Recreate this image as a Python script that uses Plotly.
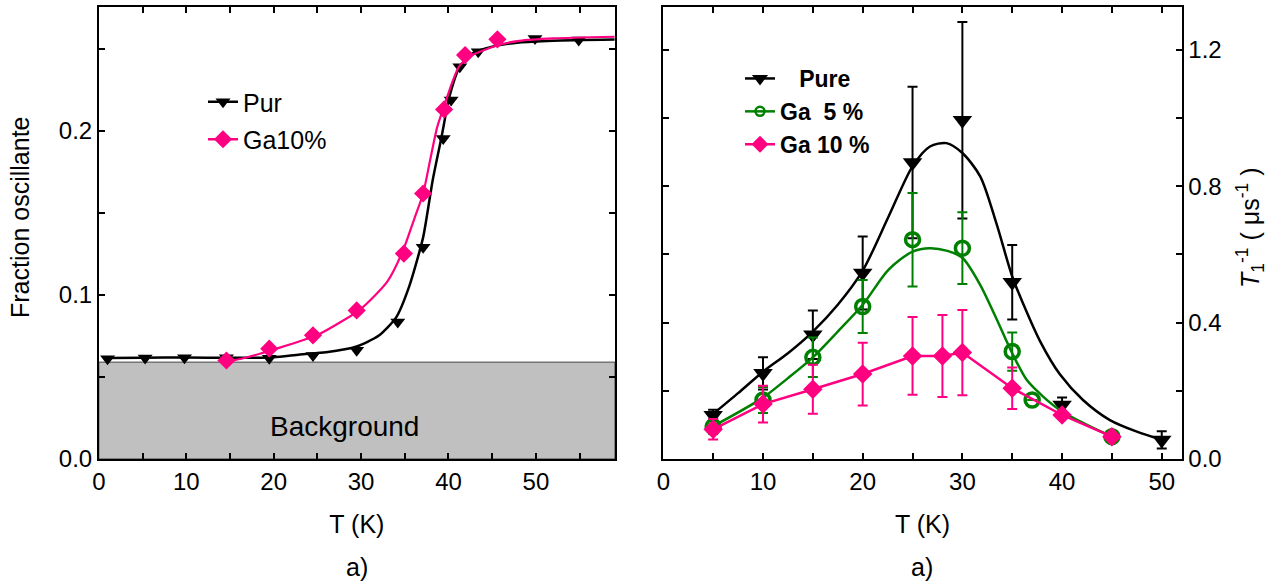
import plotly.graph_objects as go

# ---------------- Left panel: Fraction oscillante ----------------
pur_T = [1.0, 5.3, 9.8, 14.6, 19.5, 24.5, 29.5, 34.2, 37.1, 39.4, 40.3, 41.3, 43.4, 49.9, 54.9]
pur_frac = [0.061, 0.0615, 0.0617, 0.0616, 0.0613, 0.0631, 0.0662, 0.0834, 0.129, 0.1952, 0.2186, 0.2389, 0.248, 0.2562, 0.2552]

ga10_T = [14.6, 19.5, 24.5, 29.5, 34.9, 37.1, 39.5, 41.9, 45.6]
ga10_frac = [0.060, 0.0672, 0.0753, 0.0905, 0.1251, 0.1617, 0.2129, 0.246, 0.2556]

# fitted curves
pur_fit_T = [1, 5, 10, 15, 20, 23, 26, 29.5, 32, 34, 35.5, 37.1, 38.2, 39.2, 40.1, 41.3, 42.8, 45, 48.1, 52, 59]
pur_fit_frac = [0.0615, 0.0617, 0.0618, 0.0616, 0.062, 0.0637, 0.065, 0.0685, 0.075, 0.0861, 0.105, 0.135, 0.170, 0.196, 0.2205, 0.239, 0.2472, 0.2512, 0.2537, 0.2548, 0.2555]

ga10_fit_T = [14.1, 17, 20, 25, 30, 33, 34.8, 36.2, 37.1, 37.9, 38.7, 39.5, 40.4, 41.2, 42.5, 45.8, 48.1, 52, 59]
ga10_fit_frac = [0.0586, 0.062, 0.0667, 0.0755, 0.0915, 0.108, 0.127, 0.148, 0.1616, 0.182, 0.202, 0.215, 0.229, 0.239, 0.2455, 0.2523, 0.2547, 0.2562, 0.2572]

background_level = 0.059

left_x_ticks = [0, 10, 20, 30, 40, 50]
left_x_labels = ["0", "10", "20", "30", "40", "50"]
left_x_minor = [5, 15, 25, 35, 45, 55]
left_y_ticks = [0, 0.1, 0.2]
left_y_labels = ["0.0", "0.1", "0.2"]
left_y_minor = [0.05, 0.15, 0.25]

# ---------------- Right panel: T1^-1 ----------------
pure_T = [5, 10, 15, 20, 25, 30, 35, 40, 50]
pure_rate = [0.128, 0.251, 0.364, 0.545, 0.869, 0.993, 0.518, 0.158, 0.056]
pure_err = [0.016, 0.047, 0.071, 0.107, 0.222, 0.288, 0.109, 0.022, 0.025]

ga5_T = [5, 10, 15, 20, 25, 30, 35, 37, 45]
ga5_rate = [0.095, 0.173, 0.298, 0.447, 0.643, 0.618, 0.315, 0.173, 0.0655]
ga5_err = [0.022, 0.038, 0.058, 0.078, 0.137, 0.105, 0.056, None, None]

ga10r_T = [5, 10, 15, 20, 25, 28, 30, 35, 40, 45]
ga10r_rate = [0.087, 0.161, 0.2045, 0.249, 0.302, 0.302, 0.312, 0.2075, 0.129, 0.0655]
ga10r_err = [0.03, 0.054, 0.072, 0.092, 0.114, 0.12, 0.125, 0.061, None, None]

pure_fit_T = [5, 7.5, 10, 12.5, 15, 17.5, 20, 22.6, 25, 26.75, 28.4, 30, 31.8, 33.4, 35, 36.1, 37.8, 39.8, 42.1, 44.8, 47.5, 50]
pure_fit_rate = [0.132, 0.193, 0.256, 0.31, 0.3735, 0.452, 0.552, 0.711, 0.858, 0.916, 0.926, 0.897, 0.828, 0.692, 0.535, 0.455, 0.345, 0.2475, 0.173, 0.114, 0.080, 0.056]

ga5_fit_T = [5, 10, 12.5, 15, 17.5, 20, 22.6, 25, 26.75, 28.5, 30, 31.8, 33.2, 35, 36.45, 38.1, 40, 42.5, 45]
ga5_fit_rate = [0.096, 0.18, 0.237, 0.298, 0.3735, 0.452, 0.555, 0.608, 0.618, 0.61, 0.59, 0.51, 0.425, 0.31, 0.232, 0.183, 0.139, 0.0998, 0.0655]

right_x_ticks = [0, 10, 20, 30, 40, 50]
right_x_labels = ["0", "10", "20", "30", "40", "50"]
right_x_minor = [5, 15, 25, 35, 45]
right_y_ticks = [0, 0.4, 0.8, 1.2]
right_y_labels = ["0.0", "0.4", "0.8", "1.2"]
right_y_minor = [0.2, 0.6, 1.0]

BLACK = "#000000"
PINK = "#FF0080"
GREEN = "#008000"
FONT = "Liberation Sans, Arial, sans-serif"

fig = go.Figure()

# ---- left panel traces ----
fig.add_trace(go.Scatter(x=pur_fit_T, y=pur_fit_frac, mode="lines", line=dict(color=BLACK, width=2.5, shape="spline", smoothing=0.6),
                         showlegend=False, xaxis="x", yaxis="y", hoverinfo="skip"))
fig.add_trace(go.Scatter(x=pur_T, y=pur_frac, mode="markers", marker=dict(symbol="triangle-down", size=13, color=BLACK),
                         showlegend=False, xaxis="x", yaxis="y"))
fig.add_trace(go.Scatter(x=ga10_fit_T, y=ga10_fit_frac, mode="lines", line=dict(color=PINK, width=2.2, shape="spline", smoothing=0.6),
                         showlegend=False, xaxis="x", yaxis="y", hoverinfo="skip"))
fig.add_trace(go.Scatter(x=ga10_T, y=ga10_frac, mode="markers", marker=dict(symbol="diamond", size=14, color=PINK),
                         showlegend=False, xaxis="x", yaxis="y"))
# left legend entries
fig.add_trace(go.Scatter(x=[None], y=[None], mode="lines+markers", name="Pur", legend="legend", legendgroup="a",
                         line=dict(color=BLACK, width=2.5), marker=dict(symbol="triangle-down", size=13, color=BLACK),
                         xaxis="x", yaxis="y"))
fig.add_trace(go.Scatter(x=[None], y=[None], mode="lines+markers", name="Ga10%", legend="legend", legendgroup="b",
                         line=dict(color=PINK, width=2.5), marker=dict(symbol="diamond", size=14, color=PINK),
                         xaxis="x", yaxis="y"))

# ---- right panel traces ----
fig.add_trace(go.Scatter(x=pure_fit_T, y=pure_fit_rate, mode="lines", line=dict(color=BLACK, width=2.5, shape="spline", smoothing=0.8),
                         showlegend=False, xaxis="x2", yaxis="y2", hoverinfo="skip"))
fig.add_trace(go.Scatter(x=pure_T, y=pure_rate, mode="markers", marker=dict(symbol="triangle-down", size=17, color=BLACK),
                         error_y=dict(type="data", array=pure_err, color=BLACK, thickness=2, width=5),
                         xaxis="x2", yaxis="y2", showlegend=False))
fig.add_trace(go.Scatter(x=ga5_fit_T, y=ga5_fit_rate, mode="lines", line=dict(color=GREEN, width=2.5, shape="spline", smoothing=0.8),
                         showlegend=False, xaxis="x2", yaxis="y2", hoverinfo="skip"))
fig.add_trace(go.Scatter(x=ga5_T, y=ga5_rate, mode="markers",
                         marker=dict(symbol="circle-open", size=14, color=GREEN, line=dict(width=3.5, color=GREEN)),
                         error_y=dict(type="data", array=ga5_err, color=GREEN, thickness=2, width=5),
                         showlegend=False, xaxis="x2", yaxis="y2"))
fig.add_trace(go.Scatter(x=ga10r_T, y=ga10r_rate, mode="lines+markers",
                         line=dict(color=PINK, width=2.5), marker=dict(symbol="diamond", size=15, color=PINK),
                         error_y=dict(type="data", array=ga10r_err, color=PINK, thickness=2, width=5),
                         showlegend=False, xaxis="x2", yaxis="y2"))
# right legend entries
fig.add_trace(go.Scatter(x=[None], y=[None], mode="lines+markers", name="\u00a0\u00a0\u00a0Pure", legend="legend2", legendgroup="p",
                         line=dict(color=BLACK, width=2.5), marker=dict(symbol="triangle-down", size=14, color=BLACK),
                         xaxis="x2", yaxis="y2"))
fig.add_trace(go.Scatter(x=[None], y=[None], mode="lines+markers", name="Ga\u00a0\u00a05 %", legend="legend2", legendgroup="g5",
                         line=dict(color=GREEN, width=2.5),
                         marker=dict(symbol="circle-open", size=9, color=GREEN, line=dict(width=2.5, color=GREEN)),
                         xaxis="x2", yaxis="y2"))
fig.add_trace(go.Scatter(x=[None], y=[None], mode="lines+markers", name="Ga 10 %", legend="legend2", legendgroup="g10",
                         line=dict(color=PINK, width=2.5), marker=dict(symbol="diamond", size=13, color=PINK),
                         xaxis="x2", yaxis="y2"))

axis_common = dict(showline=True, linecolor=BLACK, linewidth=1.6, mirror="allticks", ticks="inside",
                   ticklen=6, tickwidth=1.5, tickcolor=BLACK, showgrid=False, zeroline=False, automargin=False,
                   tickfont=dict(family=FONT, size=24, color=BLACK))


def minor_ticks(vals):
    return dict(tickmode="array", tickvals=vals, ticks="inside", ticklen=6, tickwidth=1.5, tickcolor=BLACK, showgrid=False)


fig.update_layout(
    width=1285, height=585,
    margin=dict(l=0, r=0, t=0, b=0, pad=0, autoexpand=False),
    paper_bgcolor="white", plot_bgcolor="white",
    font=dict(family=FONT, size=24, color=BLACK),
    xaxis=dict(domain=[0.0769, 0.4786], range=[0, 59.05], tickmode="array", tickvals=left_x_ticks, ticktext=left_x_labels,
               minor=minor_ticks(left_x_minor),
               anchor="y", title=dict(text="T (K)", standoff=22, font=dict(size=25)), **axis_common),
    yaxis=dict(domain=[0.2154, 0.988], range=[0, 0.2753], tickmode="array", tickvals=left_y_ticks, ticktext=left_y_labels,
               minor=minor_ticks(left_y_minor), anchor="x", **axis_common),
    xaxis2=dict(domain=[0.5162, 0.9196], range=[0, 52.0], tickmode="array", tickvals=right_x_ticks, ticktext=right_x_labels,
                minor=minor_ticks(right_x_minor),
                anchor="y2", title=dict(text="T (K)", standoff=22, font=dict(size=25)), **axis_common),
    yaxis2=dict(domain=[0.2154, 0.988], range=[0, 1.325], tickmode="array", tickvals=right_y_ticks, ticktext=right_y_labels,
                minor=minor_ticks(right_y_minor), anchor="x2", side="right", **axis_common),
    legend=dict(x=203 / 1285, y=1 - 79 / 585, xanchor="left", yanchor="top", bgcolor="rgba(0,0,0,0)",
                font=dict(family=FONT, size=25, color=BLACK), tracegroupgap=2),
    legend2=dict(x=740 / 1285, y=1 - 57 / 585, xanchor="left", yanchor="top", bgcolor="rgba(0,0,0,0)",
                 font=dict(family=FONT, size=23, color=BLACK, weight="bold"), tracegroupgap=0),
    shapes=[dict(type="rect", xref="x domain", yref="y", x0=0, x1=1, y0=0, y1=background_level,
                 fillcolor="#C0C0C0", line=dict(color="#404040", width=1), layer="below")],
    annotations=[
        dict(text="Background", xref="x", yref="y", x=28.1, y=0.0195, showarrow=False,
             xanchor="center", yanchor="middle", font=dict(family=FONT, size=28, color=BLACK)),
        dict(text="Fraction oscillante", xref="paper", yref="paper", x=20 / 1285, y=1 - 218 / 585, textangle=-90,
             xanchor="center", yanchor="middle", showarrow=False, font=dict(family=FONT, size=25, color=BLACK)),
        dict(text="<i>T</i><sub>1</sub><sup>-1</sup> ( \u03bcs<sup>-1</sup> )", xref="paper", yref="paper",
             x=1250 / 1285, y=1 - 228 / 585, textangle=-90, showarrow=False, xanchor="center", yanchor="middle",
             font=dict(family=FONT, size=25, color=BLACK)),
        dict(text="a)", xref="paper", yref="paper", x=357 / 1285, y=1 - 567 / 585, showarrow=False,
             xanchor="center", yanchor="middle", font=dict(family=FONT, size=25, color=BLACK)),
        dict(text="a)", xref="paper", yref="paper", x=922 / 1285, y=1 - 567 / 585, showarrow=False,
             xanchor="center", yanchor="middle", font=dict(family=FONT, size=25, color=BLACK)),
    ],
)

fig.write_html("out.html", config={"displayModeBar": False},
               post_script="document.body.style.margin='0';document.body.style.overflow='hidden';")
